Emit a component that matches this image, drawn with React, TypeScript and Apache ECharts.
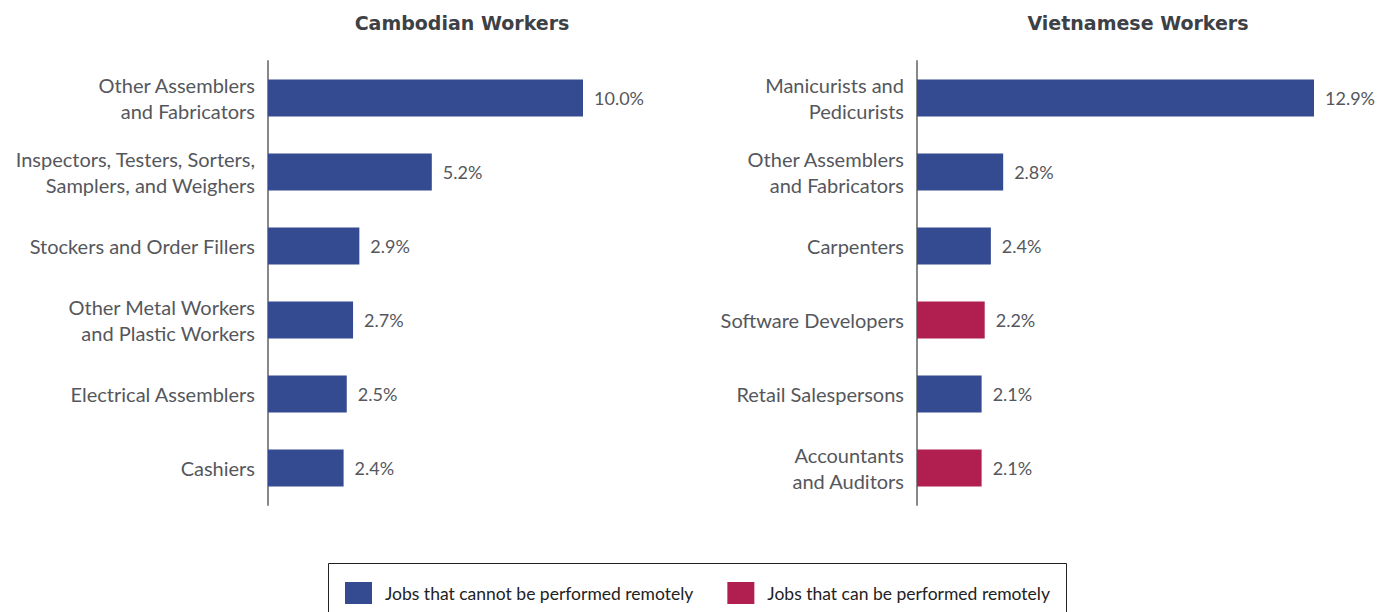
import React, { useEffect, useRef } from "react";
import * as echarts from "echarts";

const cambodianCategories = [
  "Other Assemblers\nand Fabricators",
  "Inspectors, Testers, Sorters,\nSamplers, and Weighers",
  "Stockers and Order Fillers",
  "Other Metal Workers\nand Plastic Workers",
  "Electrical Assemblers",
  "Cashiers",
];
const cambodianValues = [10.0, 5.2, 2.9, 2.7, 2.5, 2.4];

const vietCategories = [
  "Manicurists and\nPedicurists",
  "Other Assemblers\nand Fabricators",
  "Carpenters",
  "Software Developers",
  "Retail Salespersons",
  "Accountants\nand Auditors",
];
const vietValues = [12.9, 2.8, 2.4, 2.2, 2.1, 2.1];
const vietRemote = [false, false, false, true, false, true];

const seriesNames = ["Jobs that cannot be performed remotely", "Jobs that can be performed remotely"];
const titles = ["Cambodian Workers", "Vietnamese Workers"];

const BLUE = "#344a91";
const RED = "#b01f50";
const FONT = "Lato, 'Open Sans', sans-serif";

export default function App() {
  const ref = useRef<HTMLDivElement>(null);
  useEffect(() => {
    if (!ref.current) return;
    const chart = echarts.init(ref.current, undefined, { renderer: "svg" });
    const labelCfg = {
      show: true,
      position: "right",
      distance: 11,
      formatter: (p: any) => p.value.toFixed(1) + "%",
      color: "#55575c",
      fontSize: 18,
      fontFamily: FONT,
    };
    const yAxisBase = {
      type: "category",
      inverse: true,
      axisLine: { show: true, lineStyle: { color: "#888888", width: 2 } },
      axisTick: { show: false },
      axisLabel: {
        color: "#55575c",
        fontSize: 20,
        fontFamily: FONT,
        lineHeight: 26,
        margin: 13,
        align: "right",
      },
    };
    const xAxisBase = {
      type: "value",
      min: 0,
      show: false,
      splitLine: { show: false },
    };
    const titleStyle = {
      fontFamily: "'DejaVu Sans', sans-serif",
      fontWeight: "bold",
      fontSize: 19,
      color: "#3d4045",
    };
    chart.setOption({
      animation: false,
      title: [
        { text: titles[0], left: 457, top: 8, textAlign: "center", textStyle: titleStyle },
        { text: titles[1], left: 1133, top: 8, textAlign: "center", textStyle: titleStyle },
      ],
      grid: [
        { left: 268, top: 61, width: 315, height: 444 },
        { left: 917, top: 61, width: 397, height: 444 },
      ],
      xAxis: [
        { ...xAxisBase, gridIndex: 0, max: 10.0 },
        { ...xAxisBase, gridIndex: 1, max: 12.9 },
      ],
      yAxis: [
        { ...yAxisBase, gridIndex: 0, data: cambodianCategories },
        { ...yAxisBase, gridIndex: 1, data: vietCategories },
      ],
      legend: {
        left: 345,
        top: 582,
        padding: 0,
        itemWidth: 27,
        itemHeight: 22,
        itemGap: 34,
        icon: "rect",
        textStyle: { fontFamily: FONT, fontSize: 17.5, color: "#222222", padding: [0, 0, 0, 8] },
        data: seriesNames,
      },
      graphic: [
        {
          type: "rect",
          shape: { x: 328.5, y: 563.5, width: 738, height: 60 },
          style: { fill: "none", stroke: "#222222", lineWidth: 1 },
          silent: true,
        },
      ],
      series: [
        {
          type: "bar",
          name: seriesNames[0],
          xAxisIndex: 0,
          yAxisIndex: 0,
          data: cambodianValues,
          barWidth: 37,
          itemStyle: { color: BLUE },
          label: labelCfg,
        },
        {
          type: "bar",
          name: seriesNames[0],
          xAxisIndex: 1,
          yAxisIndex: 1,
          data: vietValues.map((v, i) => (vietRemote[i] ? "-" : v)),
          barWidth: 37,
          barGap: "-100%",
          itemStyle: { color: BLUE },
          label: labelCfg,
        },
        {
          type: "bar",
          name: seriesNames[1],
          xAxisIndex: 1,
          yAxisIndex: 1,
          data: vietValues.map((v, i) => (vietRemote[i] ? v : "-")),
          barWidth: 37,
          barGap: "-100%",
          itemStyle: { color: RED },
          label: labelCfg,
        },
      ],
    });
    return () => chart.dispose();
  }, []);
  return (
    <div
      ref={ref}
      style={{ position: "fixed", left: 0, top: 0, width: 1387, height: 612, background: "#ffffff" }}
    />
  );
}
